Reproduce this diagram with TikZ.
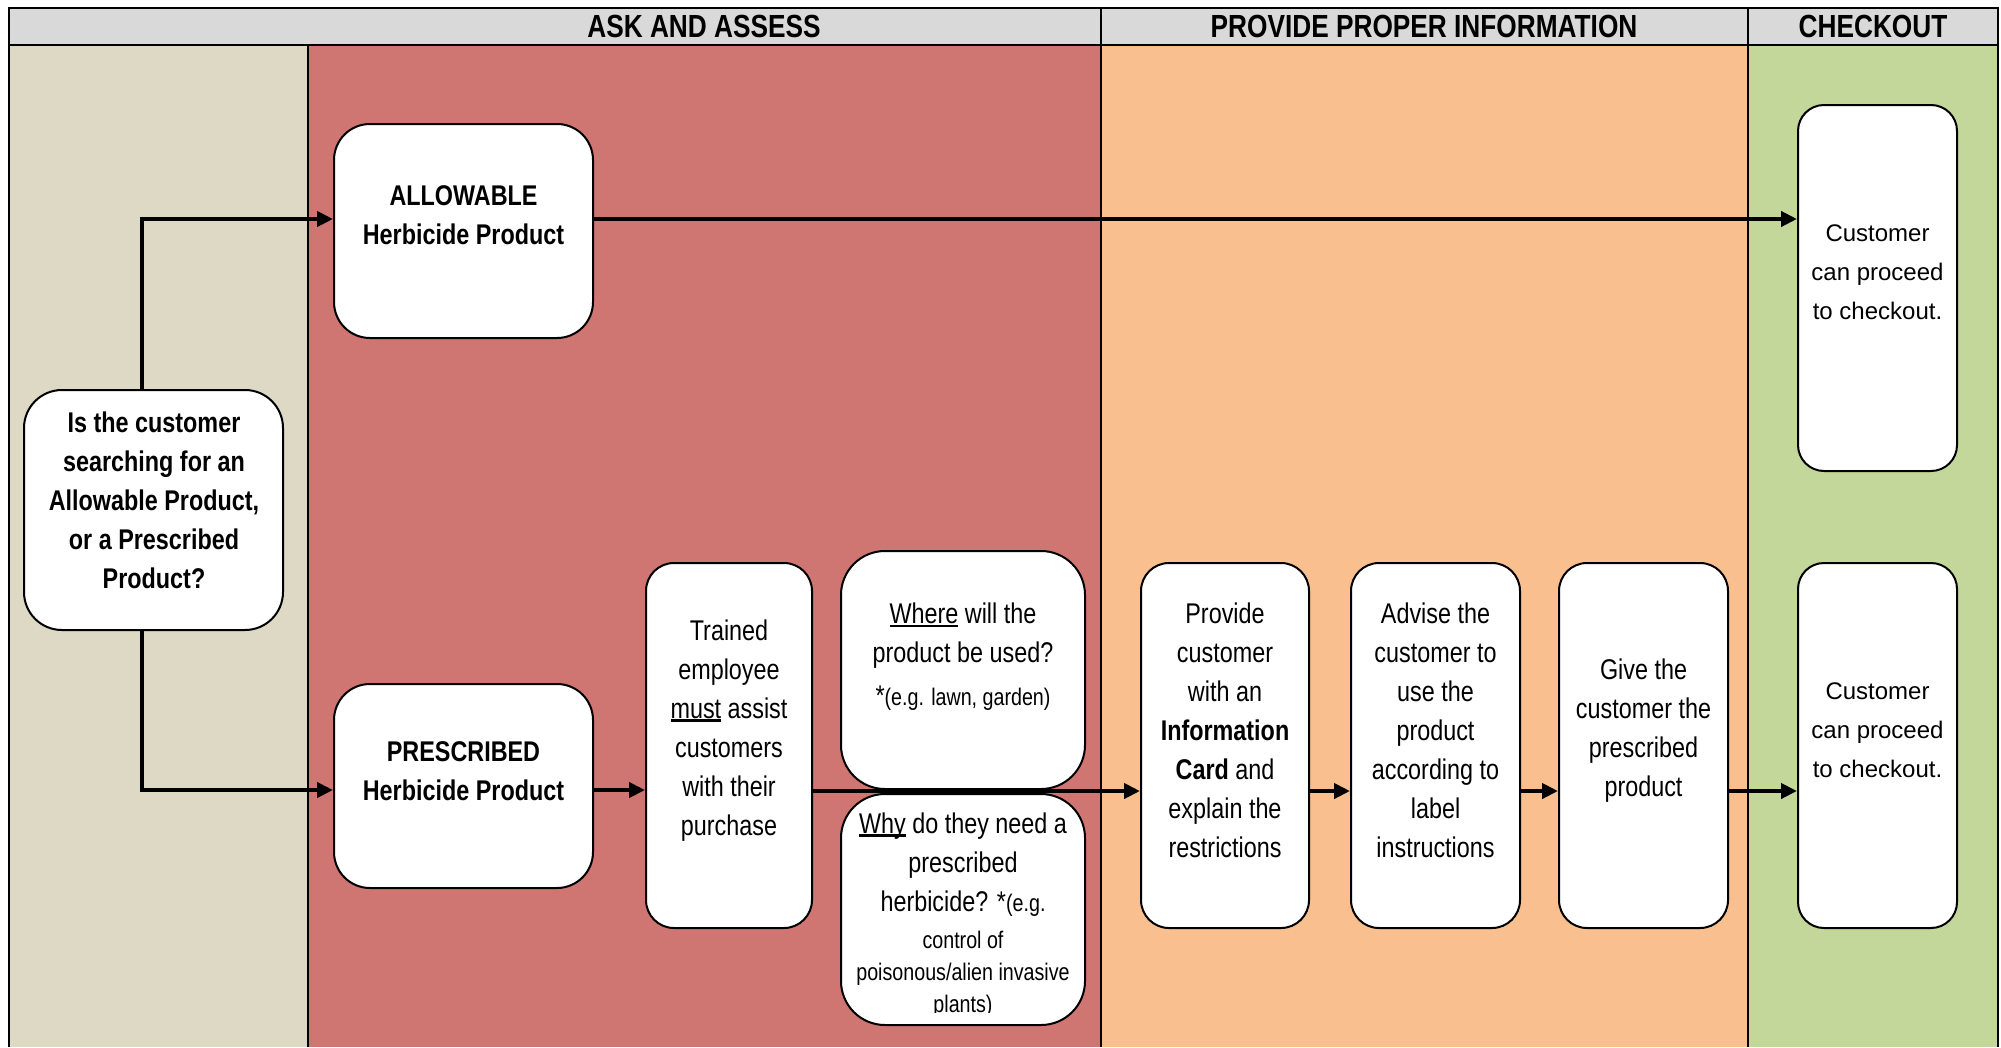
\documentclass[tikz,border=0pt]{standalone}
\usepackage{fontspec}
\setmainfont{Liberation Sans}
\newfontfamily\narrowfont[FakeStretch=0.82]{Liberation Sans}
\usetikzlibrary{arrows.meta}
\definecolor{hdrgray}{RGB}{217,217,217}
\definecolor{lanebeige}{RGB}{221,217,196}
\definecolor{lanered}{RGB}{207,117,114}
\definecolor{laneorange}{RGB}{250,191,143}
\definecolor{lanegreen}{RGB}{196,215,155}
\newcommand\myul[1]{\setbox0\hbox{#1}\rlap{\rule[-3.5pt]{\wd0}{2.4pt}}\box0\relax}
\begin{document}
\begin{tikzpicture}[x=1pt,y=-1pt,
  laneline/.style={line width=2.5pt},
  box/.style={draw, fill=white, line width=2pt, rounded corners=30pt, inner sep=0pt},
  txt/.style={font=\narrowfont\fontsize{28.5}{39}\selectfont, align=center, inner sep=0pt},
  btxt/.style={font=\narrowfont\bfseries\fontsize{28.5}{39}\selectfont, align=center, inner sep=0pt},
  stxt/.style={font=\narrowfont\fontsize{24}{32}\selectfont, align=center, inner sep=0pt},
  ctxt/.style={font=\fontsize{24}{39}\selectfont, align=center, inner sep=0pt},
  htxt/.style={font=\narrowfont\bfseries\fontsize{32}{36}\selectfont, inner sep=0pt},
  arr/.style={line width=4pt, -{Triangle[length=16pt,width=15pt]}}
]
\useasboundingbox (0,0) rectangle (2001,1047);
% lanes
\fill[lanebeige] (9,45) rectangle (308,1047);
\fill[lanered] (308,45) rectangle (1101,1047);
\fill[laneorange] (1101,45) rectangle (1748,1047);
\fill[lanegreen] (1748,45) rectangle (1998,1047);
\fill[hdrgray] (9,8) rectangle (1998,45);
\draw[laneline] (9,1047) -- (9,8) -- (1998,8) -- (1998,1047);
\draw[laneline] (9,45) -- (1998,45);
\draw[laneline] (308,45) -- (308,1047);
\draw[laneline] (1101,8) -- (1101,1047);
\draw[laneline] (1748,8) -- (1748,1047);
% headers
\node[htxt] (h1) at (704,26) {ASK AND ASSESS};
\node[htxt] (h2) at (1424,26) {PROVIDE PROPER INFORMATION};
\node[htxt] (h3) at (1873,26) {CHECKOUT};
% boxes
\node[box, rounded corners=38pt, minimum width=259pt, minimum height=240pt] (q) at (153.5,510) {};
\node[box, rounded corners=36pt, minimum width=259pt, minimum height=214pt] (allow) at (463.5,231) {};
\node[box, rounded corners=36pt, minimum width=259pt, minimum height=204pt] (presc) at (463.5,786) {};
\node[box, rounded corners=28pt, minimum width=166pt, minimum height=365pt] (trained) at (729,745.5) {};
\node[box, rounded corners=44pt, minimum width=244pt, minimum height=238pt] (where) at (963,670) {};
\node[box, rounded corners=44pt, minimum width=244pt, minimum height=231pt] (why) at (963,909.5) {};
\node[box, rounded corners=28pt, minimum width=168pt, minimum height=365pt] (provide) at (1225,745.5) {};
\node[box, rounded corners=28pt, minimum width=169pt, minimum height=365pt] (advise) at (1435.5,745.5) {};
\node[box, rounded corners=28pt, minimum width=169pt, minimum height=365pt] (give) at (1643.5,745.5) {};
\node[box, rounded corners=26pt, minimum width=159pt, minimum height=366pt] (co1) at (1877.5,288) {};
\node[box, rounded corners=26pt, minimum width=159pt, minimum height=365pt] (co2) at (1877.5,745.5) {};
% texts
\node[btxt] (tq) at (154,500) {Is the customer\\searching for an\\Allowable Product,\\or a Prescribed\\Product?};
\node[btxt] (ta) at (463.5,215) {ALLOWABLE\\Herbicide Product};
\node[btxt] (tp) at (463.5,771) {PRESCRIBED\\Herbicide Product};
\node[txt] (tt) at (729,730.5) {Trained\\employee\\\myul{must} assist\\customers\\with their\\purchase};
\node[txt] (tw1) at (963,636) {\myul{Where} will the\\product be used?};
\node[txt] (tw2) at (963,698) {*{\fontsize{24}{32}\selectfont(e.g. lawn, garden)}};
\node[txt] (ty1) at (963,864.5) {\myul{Why} do they need a\\prescribed\\herbicide? *{\fontsize{24}{32}\selectfont(e.g.}};
\begin{scope}
\clip (why.north west) rectangle ([yshift=14pt]why.south east);
\node[stxt] (ty2) at (963,974) {control of\\poisonous/alien invasive\\plants)};
\end{scope}
\node[txt] (tpr) at (1225,730.5) {Provide\\customer\\with an\\\textbf{Information}\\\textbf{Card} and\\explain the\\restrictions};
\node[txt] (tad) at (1435.5,730.5) {Advise the\\customer to\\use the\\product\\according to\\label\\instructions};
\node[txt] (tg) at (1643.5,730.5) {Give the\\customer the\\prescribed\\product};
\node[ctxt] (tc1) at (1877.5,272.5) {Customer\\can proceed\\to checkout.};
\node[ctxt] (tc2) at (1877.5,730) {Customer\\can proceed\\to checkout.};
% connectors
\coordinate (ytop) at (0,219);
\coordinate (ybot) at (0,790);
\coordinate (yrow) at (0,791);
\coordinate (xq) at (142,0);
\draw[arr] (q.north -| xq) -- (xq |- ytop) -- (allow.west |- ytop);
\draw[arr] (q.south -| xq) -- (xq |- ybot) -- (presc.west |- ybot);
\draw[arr] (allow.east |- ytop) -- (co1.west |- ytop);
\draw[arr] (presc.east |- ybot) -- (trained.west |- ybot);
\draw[arr] (trained.east |- yrow) -- (provide.west |- yrow);
\draw[arr] (provide.east |- yrow) -- (advise.west |- yrow);
\draw[arr] (advise.east |- yrow) -- (give.west |- yrow);
\draw[arr] (give.east |- yrow) -- (co2.west |- yrow);
\end{tikzpicture}
\end{document}
